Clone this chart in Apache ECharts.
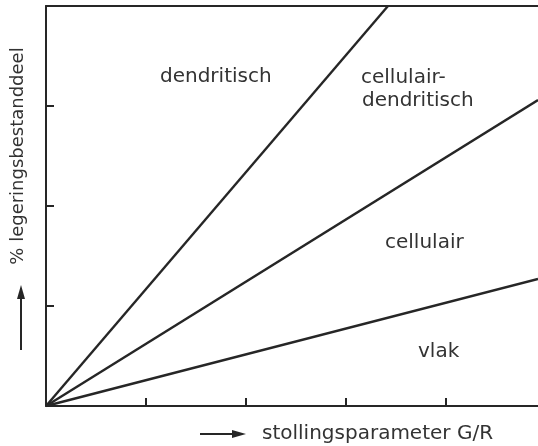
<!DOCTYPE html>
<html>
<head>
<meta charset="utf-8">
<script src="https://cdn.jsdelivr.net/npm/echarts@6/dist/echarts.min.js"></script>
<style>
  html, body { margin: 0; padding: 0; background: #fff; }
  #chart { width: 538px; height: 446px; }
</style>
</head>
<body>
<div id="chart"></div>
<script>
// grenslijnen tussen de stollingsvormen (x = G/R, y = % legering)
var lineDendritisch = [[0, 0], [3.42, 4]];
var lineCellDendr = [[0, 0], [4.92, 3.06]];
var lineCellulair = [[0, 0], [4.92, 1.27]];

var xTicks = [0, 1, 2, 3, 4];
var yTicks = [0, 1, 2, 3, 4];

var ink = '#262626';
var font = '"DejaVu Sans", sans-serif';

var chart = echarts.init(document.getElementById('chart'), null, { renderer: 'canvas' });

function boundary(data) {
  return {
    type: 'line',
    data: data,
    symbol: 'none',
    silent: true,
    lineStyle: { color: ink, width: 2.4 }
  };
}

// x = linkerkant, y = midden van de tekst
function label(text, x, y) {
  return {
    type: 'text',
    x: x,
    y: y,
    style: { text: text, fill: '#333', font: '20px ' + font, verticalAlign: 'middle' }
  };
}

var option = {
  backgroundColor: '#fff',
  animation: false,
  grid: { left: 46, top: 6, right: 0, bottom: 40 },
  xAxis: [
    {
      type: 'value',
      min: xTicks[0],
      max: 4.92,
      interval: 1,
      axisLine: { lineStyle: { color: ink, width: 2 } },
      axisTick: {
        show: true,
        inside: true,
        length: 8,
        customValues: xTicks,
        lineStyle: { color: ink, width: 2 }
      },
      axisLabel: { show: false },
      splitLine: { show: false }
    },
    {
      type: 'value',
      position: 'top',
      min: 0,
      max: 4.92,
      axisLine: { show: true, lineStyle: { color: ink, width: 2 } },
      axisTick: { show: false },
      axisLabel: { show: false },
      splitLine: { show: false }
    }
  ],
  yAxis: {
    type: 'value',
    min: yTicks[0],
    max: yTicks[yTicks.length - 1],
    interval: 1,
    axisLine: { show: true, lineStyle: { color: ink, width: 2 } },
    axisTick: { show: true, inside: true, length: 8, lineStyle: { color: ink, width: 2 } },
    axisLabel: { show: false },
    splitLine: { show: false }
  },
  series: [
    boundary(lineDendritisch),
    boundary(lineCellDendr),
    boundary(lineCellulair)
  ],
  graphic: [
    label('dendritisch', 160, 77),
    label('cellulair-', 361, 78),
    label('dendritisch', 362, 101),
    label('cellulair', 385, 243),
    label('vlak', 418, 352),
    // y-as titel
    {
      type: 'text',
      x: 18,
      y: 156,
      rotation: Math.PI / 2,
      style: {
        text: '% legeringsbestanddeel',
        fill: '#333',
        font: '18px ' + font,
        align: 'center',
        verticalAlign: 'middle'
      }
    },
    // pijl omhoog
    { type: 'line', shape: { x1: 21, y1: 350, x2: 21, y2: 296 }, style: { stroke: ink, lineWidth: 2 } },
    { type: 'polygon', shape: { points: [[21, 285], [17, 299], [25, 299]] }, style: { fill: ink } },
    // pijl naar rechts
    { type: 'line', shape: { x1: 200, y1: 434, x2: 234, y2: 434 }, style: { stroke: ink, lineWidth: 2 } },
    { type: 'polygon', shape: { points: [[246, 434], [232, 430], [232, 438]] }, style: { fill: ink } },
    {
      type: 'text',
      x: 262,
      y: 434,
      style: { text: 'stollingsparameter G/R', fill: '#333', font: '20px ' + font, verticalAlign: 'middle' }
    }
  ]
};

chart.setOption(option);
</script>
</body>
</html>
